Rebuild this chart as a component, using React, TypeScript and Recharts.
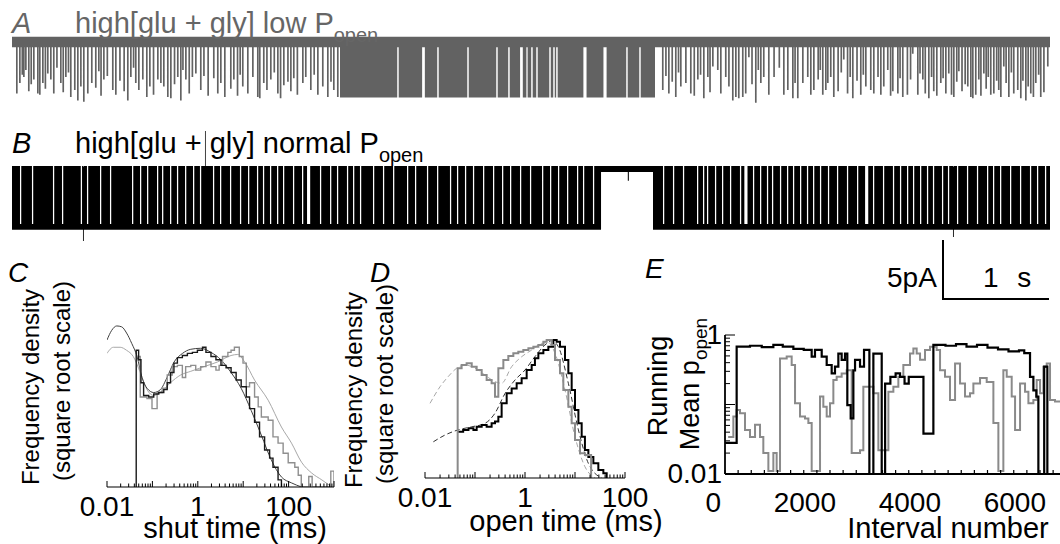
import { ComposedChart, Line, Area, XAxis, YAxis } from "recharts";

const FONT = '"Liberation Sans", Arial, Helvetica, sans-serif';

// ---------- A / B single-channel records (time in s, current in pA) ----------
const TRACE_END = 9.886;

// low Popen record: isolated openings [time, amplitude]
const A_SPIKES: [number, number][] = [
  [0.038, 4.4], [0.067, 3.5], [0.09, 2.8], [0.105, 3.0], [0.124, 2.4], [0.152, 4.2], [0.175, 3.6], [0.2, 3.2],
  [0.238, 4.4], [0.257, 4.5], [0.286, 3.5], [0.31, 4.0], [0.333, 2.7], [0.362, 3.2], [0.39, 4.4], [0.42, 2.2],
  [0.457, 3.5], [0.48, 4.3], [0.505, 3.0], [0.53, 2.6], [0.552, 4.7], [0.59, 4.1], [0.619, 5.0], [0.648, 3.8],
  [0.676, 5.1], [0.714, 4.4], [0.752, 3.5], [0.79, 3.9], [0.819, 2.5], [0.84, 4.6], [0.867, 3.2], [0.9, 2.9],
  [0.952, 4.1], [0.981, 4.5], [1.02, 3.3], [1.06, 4.2], [1.095, 5.0], [1.124, 3.0], [1.15, 2.2], [1.171, 3.5],
  [1.2, 4.1], [1.238, 3.2], [1.276, 4.7], [1.305, 3.8], [1.34, 4.5], [1.381, 3.2], [1.41, 3.5], [1.438, 3.8],
  [1.476, 4.7], [1.505, 4.8], [1.54, 3.6], [1.571, 3.0], [1.6, 5.0], [1.62, 2.4], [1.648, 3.2], [1.68, 4.4],
  [1.71, 3.0], [1.743, 2.7], [1.79, 4.1], [1.82, 2.9], [1.86, 4.6], [1.914, 3.1], [1.952, 4.4], [1.981, 3.5],
  [2.019, 4.7], [2.076, 4.0], [2.105, 3.2], [2.14, 4.6], [2.165, 2.8], [2.19, 3.8], [2.238, 4.4], [2.286, 3.0],
  [2.333, 4.7], [2.352, 4.8], [2.39, 3.5], [2.42, 4.1], [2.457, 3.2], [2.49, 2.6], [2.524, 4.4], [2.55, 4.8],
  [2.581, 3.7], [2.62, 3.4], [2.648, 4.2], [2.676, 3.1], [2.71, 4.5], [2.762, 3.5], [2.79, 3.0], [2.838, 4.1],
  [2.87, 2.8], [2.905, 4.5], [2.952, 3.8], [3.0, 4.7], [3.03, 3.4], [3.057, 4.1], [3.095, 4.7],
  [6.19, 4.1], [6.22, 2.9], [6.248, 4.4], [6.28, 3.4], [6.314, 4.7], [6.34, 2.6], [6.362, 3.8], [6.41, 3.5],
  [6.457, 4.4], [6.49, 4.6], [6.524, 3.2], [6.55, 2.8], [6.581, 4.8], [6.619, 3.0], [6.64, 4.3], [6.667, 2.1],
  [6.714, 2.4], [6.743, 4.4], [6.79, 3.0], [6.82, 3.8], [6.857, 5.0], [6.886, 4.7], [6.914, 4.8], [6.952, 4.7],
  [6.98, 4.4], [7.01, 1.3], [7.04, 3.6], [7.076, 5.2], [7.1, 2.4], [7.124, 3.5], [7.152, 3.0], [7.2, 4.5],
  [7.25, 3.0], [7.3, 2.2], [7.343, 4.5], [7.381, 4.1], [7.429, 4.8], [7.45, 3.5], [7.476, 4.8], [7.524, 3.5],
  [7.571, 3.0], [7.6, 4.5], [7.629, 4.1], [7.67, 3.2], [7.69, 2.4], [7.714, 4.5], [7.743, 4.1], [7.762, 3.5],
  [7.79, 3.0], [7.819, 4.7], [7.86, 4.2], [7.89, 2.6], [7.914, 1.5], [7.95, 4.4], [7.975, 3.0], [8.0, 4.8],
  [8.04, 3.3], [8.076, 4.5], [8.1, 2.8], [8.124, 3.8], [8.171, 4.1], [8.2, 4.4], [8.24, 3.0], [8.267, 4.5],
  [8.295, 3.8], [8.333, 2.4], [8.36, 4.6], [8.381, 4.2], [8.429, 4.4], [8.45, 3.1], [8.476, 4.7], [8.52, 4.5],
  [8.55, 3.2], [8.571, 1.0], [8.619, 4.5], [8.64, 2.7], [8.667, 3.2], [8.69, 4.4], [8.724, 4.8], [8.75, 3.0],
  [8.771, 4.2], [8.8, 4.6], [8.838, 3.5], [8.86, 3.1], [8.886, 4.4], [8.914, 2.7], [8.94, 4.5], [8.962, 4.7],
  [8.99, 3.4], [9.01, 2.5], [9.04, 4.2], [9.07, 3.6], [9.095, 3.8], [9.124, 4.7], [9.143, 4.8], [9.171, 4.5],
  [9.2, 3.2], [9.22, 4.6], [9.248, 2.7], [9.27, 4.0], [9.29, 3.0], [9.314, 4.5], [9.343, 4.4], [9.37, 3.3],
  [9.39, 4.1], [9.41, 4.7], [9.438, 2.1], [9.46, 3.5], [9.486, 4.7], [9.51, 2.6], [9.533, 4.4], [9.571, 4.1],
  [9.6, 4.8], [9.62, 3.3], [9.648, 5.0], [9.67, 3.8], [9.695, 4.4], [9.72, 4.7], [9.743, 3.5], [9.77, 2.8],
  [9.79, 4.7], [9.82, 4.3], [9.857, 2.1],
];
// low Popen record: long stretch of rapid flicker, broken by short closures [centre, width]
const A_DENSE: [number, number] = [3.124, 6.124];
const A_DENSE_GAPS: [number, number][] = [
  [3.676, 0.014], [3.919, 0.026], [4.057, 0.014], [4.343, 0.014], [4.619, 0.014], [4.733, 0.014],
  [4.852, 0.026], [4.905, 0.012], [4.952, 0.014], [5.0, 0.014], [5.124, 0.014], [5.162, 0.014], [5.19, 0.014],
  [5.457, 0.03], [5.648, 0.03], [5.857, 0.014], [5.981, 0.014],
];
const A_OPEN = -4.75;
const A_NOISE = 0.45;

// normal Popen record: longer openings, seen as gaps in the flicker
const B_SLITS: number[] = [
  0.076, 0.19, 0.39, 0.476, 0.655, 0.714, 0.838, 0.933, 1.143, 1.219, 1.286, 1.381, 1.429, 1.505, 1.571, 1.648,
  1.724, 1.79, 1.914, 1.981, 2.076, 2.171, 2.248, 2.333, 2.39, 2.457, 2.524, 2.581, 2.676, 2.762, 2.933, 3.029,
  3.095, 3.19, 3.248, 3.314, 3.438, 3.533, 3.629, 3.762, 3.838, 3.952, 4.048, 4.171, 4.238, 4.314, 4.39, 4.486,
  4.581, 4.667, 4.743, 4.838, 4.933, 5.048, 5.124, 5.2, 5.286, 5.381, 5.438, 5.533,
  6.2, 6.295, 6.39, 6.524, 6.581, 6.619, 6.695, 6.762, 6.838, 6.933, 7.057, 7.124, 7.19, 7.238, 7.314, 7.381,
  7.438, 7.505, 7.571, 7.629, 7.695, 7.771, 7.857, 7.952, 8.048, 8.2, 8.295, 8.39, 8.457, 8.524, 8.581, 8.648,
  8.714, 8.771, 8.857, 8.914, 9.0, 9.095, 9.19, 9.286, 9.343, 9.41, 9.505, 9.6, 9.695, 9.762, 9.838,
];
const B_WIDE_SLITS: [number, number][] = [[2.81, 2.84], [6.975, 7.005], [8.125, 8.155]];
const B_SHUT: [number, number][] = [[5.61, 5.865], [5.875, 6.105]];
const B_GLITCHES: [number, number, number, number][] = [
  [0.676, 0.684, -6.15, 0.2], [1.838, 1.845, -5.2, 3.25], [5.865, 5.875, -1.0, 0.25], [8.962, 8.97, -5.8, 0.2],
];
const B_FLICKER: [number, number] = [-5.2, 0.25];
const B_OPEN_BAND: [number, number] = [-5.2, -4.7];
const B_SHUT_BAND: [number, number] = [-0.25, 0.25];

// ---------- C: shut time distributions (ms, frequency density on sqrt scale) ----------
const C_BLACK_HIST: [number, number][] = [
  [0.044, 0], [0.044, 67], [0.0497, 58], [0.056, 39], [0.064, 30], [0.083, 29], [0.107, 31], [0.138, 32],
  [0.178, 34], [0.212, 39], [0.251, 47], [0.298, 55], [0.355, 60], [0.457, 62], [0.59, 64], [0.76, 65],
  [0.98, 67], [1.27, 70], [1.51, 65], [1.95, 61], [2.51, 58], [3.24, 53], [4.19, 51], [5.41, 47], [6.99, 41],
  [9.03, 36], [11.7, 29], [13.8, 22], [17.8, 15], [22.9, 9], [29.6, 4.9], [38.2, 3.0], [45.3, 1.4],
  [58.6, 0.18], [69.5, 0],
];
const C_GRAY_HIST: [number, number][] = [
  [0.046, 61], [0.054, 29], [0.076, 28], [0.098, 22], [0.127, 32], [0.164, 35], [0.212, 45], [0.273, 52],
  [0.355, 53], [0.457, 43], [0.54, 52], [0.7, 53], [0.9, 49], [1.16, 52], [1.51, 56], [1.95, 52], [2.51, 49],
  [2.95, 53], [3.5, 61], [4.6, 65], [5.4, 67], [6.4, 70], [7.6, 70], [8.2, 61], [9.9, 55], [11.7, 36],
  [13.8, 39], [17.8, 29], [21.4, 23], [25.1, 17.6], [35.5, 16], [45.3, 9], [58.6, 6.9], [75.8, 4.1], [98, 2.1],
  [137, 1.4], [163, 0.5], [190, 0], [278, 0.4], [330, 0], [850, 0.9], [1000, 0.9], [1000, 0],
];
const C_BLACK_FIT: [number, number][] = [
  [0.01, 77.5], [0.0127, 88], [0.0164, 93], [0.021, 92], [0.027, 85], [0.035, 74], [0.046, 61], [0.059, 43],
  [0.076, 35], [0.107, 32], [0.15, 34], [0.21, 43], [0.3, 56], [0.46, 64], [0.7, 68], [1.16, 69], [1.95, 65],
  [3.24, 58], [5.4, 47], [9, 35], [15, 21], [25, 9.7], [41.7, 2.6], [69.5, 0.36], [116, 0.06], [193, 0],
];
const C_GRAY_FIT: [number, number][] = [
  [0.01, 64], [0.0138, 70], [0.0195, 70], [0.027, 67], [0.038, 61], [0.054, 47], [0.076, 34], [0.107, 30],
  [0.15, 32], [0.25, 39], [0.42, 45], [0.7, 48], [1.38, 52], [2.7, 56], [5.4, 62], [7.6, 63], [10.8, 56],
  [17.8, 41], [35.5, 27], [69.5, 12.9], [116, 6.9], [193, 2.2], [322, 0.7], [540, 0.18], [900, 0],
];
const C_LABELS = [0.01, 1, 100];

// ---------- D: open time distributions ----------
const D_GRAY_HIST: [number, number][] = [
  [0.045, 0], [0.045, 43.2], [0.054, 45.8], [0.068, 47.2], [0.086, 44.4], [0.108, 41.8], [0.136, 38],
  [0.171, 34.4], [0.215, 32.2], [0.251, 23.7], [0.293, 43.2], [0.369, 50], [0.464, 53.4], [0.584, 55.8],
  [0.735, 57.2], [0.926, 58.7], [1.17, 60.3], [1.47, 61.8], [1.85, 63.4], [2.33, 66.6], [2.71, 68.3],
  [3.41, 63.4], [3.98, 50], [5.01, 39.3], [5.84, 27.8], [7.36, 18.2], [8.58, 10.7], [10, 5.2], [12.6, 2.2],
  [15.8, 1.9], [21, 0],
];
const D_BLACK_HIST: [number, number][] = [
  [0.046, 7.7], [0.058, 8.3], [0.074, 8.9], [0.093, 8.3], [0.108, 9.4], [0.136, 10.1], [0.171, 9.4],
  [0.215, 10.7], [0.251, 11.4], [0.293, 13.5], [0.341, 20], [0.43, 25.7], [0.541, 28.8], [0.681, 32.2],
  [0.857, 35.6], [1.08, 41.8], [1.36, 45.8], [1.58, 51.4], [1.85, 55.8], [2.33, 58.7], [2.93, 61.8],
  [3.69, 68.3], [4.3, 66.6], [5.01, 61.8], [6.31, 50], [7.36, 39.3], [8.58, 27.8], [10, 16.6], [11.7, 10.7],
  [13.6, 6.1], [15.8, 2.8], [18.5, 1.6], [23.3, 0.77], [29.3, 0.23], [36.9, 0.08], [43, 0],
];
const D_GRAY_FIT: [number, number][] = [
  [0.0126, 20], [0.02, 29.9], [0.029, 36.8], [0.043, 43.2], [0.063, 45.8], [0.1, 43.2], [0.158, 38],
  [0.25, 33.3], [0.34, 32.2], [0.54, 44.4], [0.86, 52.8], [1.36, 58.7], [2.15, 65], [2.93, 65.6],
  [3.98, 55.8], [6.31, 27.8], [10, 6.1], [15.8, 0.46], [25, 0],
];
const D_BLACK_FIT: [number, number][] = [
  [0.0147, 4.7], [0.025, 6.6], [0.046, 8.3], [0.086, 9.4], [0.158, 10.7], [0.25, 15], [0.4, 25.7],
  [0.63, 34.4], [1, 41.8], [1.58, 52.8], [2.51, 63.4], [3.41, 67.6], [4.64, 61.8], [7.36, 32.2], [11.7, 8.3],
  [18.5, 0.77], [34, 0],
];
const D_LABELS = [0.01, 1, 100];

// ---------- E: running mean Popen (interval number, Popen) ----------
const E_BLACK: [number, number][] = [
  [0, 0.028], [222, 0.68], [476, 0.7], [700, 0.67], [921, 0.72], [1100, 0.68], [1302, 0.63], [1500, 0.61],
  [1651, 0.49], [1714, 0.61], [1842, 0.49], [1937, 0.37], [2032, 0.28], [2095, 0.35], [2159, 0.54],
  [2222, 0.44], [2286, 0.54], [2330, 0.098], [2394, 0.063], [2445, 0.31], [2477, 0.44], [2572, 0.35],
  [2648, 0.61], [2750, 0.01], [2826, 0.54], [2985, 0.01], [3050, 0.2], [3150, 0.25], [3250, 0.28],
  [3334, 0.25], [3420, 0.2], [3500, 0.25], [3780, 0.038], [3969, 0.72], [4200, 0.7], [4400, 0.74],
  [4600, 0.68], [4800, 0.72], [5000, 0.66], [5200, 0.62], [5400, 0.58], [5600, 0.6], [5700, 0.55],
  [5810, 0.25], [5874, 0.16], [5930, 0.13], [5969, 0.01], [6080, 0.35], [6140, 0.01], [6400, 0.01],
];
const E_GRAY: [number, number][] = [
  [60, 0.034], [159, 0.067], [222, 0.083], [286, 0.075], [381, 0.043], [476, 0.034], [572, 0.051],
  [667, 0.034], [730, 0.02], [826, 0.011], [921, 0.02], [984, 0.011], [1048, 0.46], [1175, 0.49],
  [1270, 0.37], [1334, 0.104], [1429, 0.067], [1524, 0.063], [1588, 0.054], [1651, 0.011], [1810, 0.13],
  [1873, 0.093], [1937, 0.067], [2000, 0.104], [2064, 0.225], [2127, 0.25], [2222, 0.28], [2318, 0.31],
  [2413, 0.02], [2572, 0.022], [2635, 0.18], [2826, 0.145], [2921, 0.022], [3112, 0.153], [3207, 0.18],
  [3302, 0.25], [3397, 0.37], [3524, 0.54], [3588, 0.64], [3651, 0.54], [3715, 0.44], [3810, 0.61],
  [3905, 0.68], [4032, 0.61], [4096, 0.31], [4191, 0.25], [4286, 0.116], [4382, 0.39], [4477, 0.2],
  [4572, 0.13], [4667, 0.145], [4731, 0.2], [4858, 0.24], [4985, 0.21], [5112, 0.054], [5207, 0.011],
  [5302, 0.31], [5366, 0.25], [5461, 0.13], [5525, 0.043], [5620, 0.2], [5715, 0.153], [5779, 0.104],
  [5874, 0.116], [5937, 0.225], [6001, 0.145], [6064, 0.35], [6128, 0.39], [6191, 0.116], [6286, 0.11],
  [6400, 0.11],
];
const E_X_LABELS = [0, 2000, 4000, 6000];
const E_Y_LABELS = [0.01, 1];

// scale bar: 5 pA, 1 s
const SCALE_TIME = 1;
const SCALE_CURRENT = 5;

type Seg = [number, number, number, number]; // start, end, low, high
type Row = { t: number; band: [number, number] };

function traceRows(segs: Seg[], base: [number, number]): Row[] {
  const s = [...segs].sort((a, b) => a[0] - b[0]);
  const rows: Row[] = [{ t: 0, band: base }];
  s.forEach((g, i) => {
    rows.push({ t: g[0], band: [g[2], g[3]] });
    const next = s[i + 1];
    if (!next || next[0] > g[1]) rows.push({ t: g[1], band: base });
  });
  rows.push({ t: TRACE_END, band: base });
  return rows;
}

// split a dense stretch into flicker segments around its short closures
function denseSegs(range: [number, number], gaps: [number, number][], low: number, high: number): Seg[] {
  const out: Seg[] = [];
  let start = range[0];
  gaps.forEach(([c, w]) => {
    out.push([start, c - w / 2, low, high]);
    start = c + w / 2;
  });
  out.push([start, range[1], low, high]);
  return out;
}

function logTicks(lo: number, hi: number): number[] {
  const out: number[] = [];
  for (let d = lo; d <= hi * 1.0001; d *= 10) {
    for (let k = 1; k <= 9; k++) {
      const v = +(d * k).toPrecision(6);
      if (v <= hi * 1.0001) out.push(v);
    }
  }
  return out;
}

const isDecade = (v: number) => {
  const m = v / Math.pow(10, Math.floor(Math.log10(v) + 1e-9));
  return Math.abs(m - 1) < 1e-6;
};

const tf = (pairs: [number, number][]) => pairs.map(([t, f]) => ({ t, f }));
const np = (pairs: [number, number][]) => pairs.map(([n, p]) => ({ n, p }));

function logTick(labels: number[], labelDy: number) {
  return (p: any) => {
    const v = Number(p.payload.value);
    const major = isDecade(v);
    const lab = labels.find((l) => Math.abs(l - v) <= l * 1e-6);
    return (
      <g>
        <line x1={p.x} x2={p.x} y1={p.y} y2={p.y - (major ? 6 : 3.5)} stroke="#000" strokeWidth={1} />
        {lab !== undefined && (
          <text x={p.x} y={p.y + labelDy} textAnchor="middle" fontSize={28} fontFamily={FONT} fill="#000">
            {String(lab)}
          </text>
        )}
      </g>
    );
  };
}

const eXTick = (p: any) => {
  const v = Number(p.payload.value);
  const lab = E_X_LABELS.includes(v);
  return (
    <g>
      <line x1={p.x} x2={p.x} y1={p.y} y2={p.y - 4} stroke="#000" strokeWidth={1.2} />
      {lab && (
        <text x={v === 0 ? p.x - 4 : p.x + 6} y={p.y + 38} textAnchor="end" fontSize={28} fontFamily={FONT} fill="#000">
          {v}
        </text>
      )}
    </g>
  );
};

const eYTick = (p: any) => {
  const v = Number(p.payload.value);
  const major = isDecade(v);
  const lab = E_Y_LABELS.find((l) => Math.abs(l - v) <= l * 1e-6);
  return (
    <g>
      <line x1={p.x} x2={p.x + (major ? 10 : 5)} y1={p.y} y2={p.y} stroke="#000" strokeWidth={1} />
      {lab !== undefined && (
        <text x={p.x - 3} y={p.y + 9} textAnchor="end" fontSize={28} fontFamily={FONT} fill="#000">
          {String(lab)}
        </text>
      )}
    </g>
  );
};

function Trace({ rows, top, height, domain, color }: { rows: Row[]; top: number; height: number; domain: [number, number]; color: string }) {
  return (
    <div style={{ position: "absolute", left: 12, top }}>
      <ComposedChart width={1038} height={height} data={rows} margin={{ top: 0, right: 0, bottom: 0, left: 0 }}>
        <XAxis type="number" dataKey="t" domain={[0, TRACE_END]} allowDataOverflow hide />
        <YAxis type="number" domain={domain} allowDataOverflow hide />
        <Area type="stepAfter" dataKey="band" stroke="none" fill={color} fillOpacity={1} dot={false} activeDot={false} isAnimationActive={false} />
      </ComposedChart>
    </div>
  );
}

export default function App() {
  const aRows = traceRows(
    [
      ...A_SPIKES.map(([t, a]): Seg => [t, t + 0.016, -a, A_NOISE]),
      ...denseSegs(A_DENSE, A_DENSE_GAPS, A_OPEN, A_NOISE),
    ],
    [-A_NOISE, A_NOISE]
  );
  const bRows = traceRows(
    [
      ...B_SLITS.map((t): Seg => [t, t + 0.012, B_OPEN_BAND[0], B_OPEN_BAND[1]]),
      ...B_WIDE_SLITS.map(([s, e]): Seg => [s, e, B_OPEN_BAND[0], B_OPEN_BAND[1]]),
      ...B_SHUT.map(([s, e]): Seg => [s, e, B_SHUT_BAND[0], B_SHUT_BAND[1]]),
      ...B_GLITCHES,
    ],
    B_FLICKER
  );

  const cTicks = logTicks(0.01, 1000);
  const dTicks = logTicks(0.01, 100);
  const eXTicks = Array.from({ length: 26 }, (_, i) => i * 250);
  const eYTicks = logTicks(0.01, 1);
  const scaleBar = [
    { t: 0, i: SCALE_CURRENT },
    { t: 0, i: 0 },
    { t: SCALE_TIME, i: 0 },
  ];

  return (
    <div style={{ position: "absolute", left: 0, top: 0, width: 1060, height: 544, overflow: "hidden", background: "#fff", fontFamily: FONT }}>
      <Trace rows={aRows} top={0} height={110} domain={[-5.81, 3.59]} color="#626262" />
      <Trace rows={bRows} top={120} height={130} domain={[-6.92, 4.18]} color="#000" />

      {/* C */}
      <div style={{ position: "absolute", left: 67, top: 320 }}>
        <ComposedChart width={307} height={212} margin={{ top: 0, right: 40, bottom: 0, left: 40 }}>
          <XAxis type="number" dataKey="t" scale="log" domain={[0.01, 1000]} allowDataOverflow ticks={cTicks} interval={0}
            tickSize={0} tickMargin={0} tickLine={false} axisLine={{ stroke: "#000", strokeWidth: 1.2 }} tick={logTick(C_LABELS, 29)} height={45} />
          <YAxis type="number" scale="sqrt" domain={[0, 100]} allowDataOverflow hide />
          <Line data={tf(C_GRAY_FIT)} dataKey="f" type="monotone" stroke="#a8a8a8" strokeWidth={1} dot={false} isAnimationActive={false} />
          <Line data={tf(C_BLACK_FIT)} dataKey="f" type="monotone" stroke="#404040" strokeWidth={1} dot={false} isAnimationActive={false} />
          <Line data={tf(C_GRAY_HIST)} dataKey="f" type="stepAfter" stroke="#8f8f8f" strokeWidth={1.4} dot={false} isAnimationActive={false} />
          <Line data={tf(C_BLACK_HIST)} dataKey="f" type="stepAfter" stroke="#1a1a1a" strokeWidth={1.4} dot={false} isAnimationActive={false} />
        </ComposedChart>
      </div>

      {/* D */}
      <div style={{ position: "absolute", left: 385, top: 311 }}>
        <ComposedChart width={280} height={212} margin={{ top: 0, right: 40, bottom: 0, left: 40 }}>
          <XAxis type="number" dataKey="t" scale="log" domain={[0.01, 100]} allowDataOverflow ticks={dTicks} interval={0}
            tickSize={0} tickMargin={0} tickLine={false} axisLine={{ stroke: "#000", strokeWidth: 1.2 }} tick={logTick(D_LABELS, 29)} height={45} />
          <YAxis type="number" scale="sqrt" domain={[0, 100]} allowDataOverflow hide />
          <Line data={tf(D_GRAY_FIT)} dataKey="f" type="monotone" stroke="#a8a8a8" strokeWidth={1} strokeDasharray="5 3" dot={false} isAnimationActive={false} />
          <Line data={tf(D_BLACK_FIT)} dataKey="f" type="monotone" stroke="#303030" strokeWidth={1} strokeDasharray="5 3" dot={false} isAnimationActive={false} />
          <Line data={tf(D_BLACK_HIST)} dataKey="f" type="stepAfter" stroke="#000" strokeWidth={2} dot={false} isAnimationActive={false} />
          <Line data={tf(D_GRAY_HIST)} dataKey="f" type="stepAfter" stroke="#8a8a8a" strokeWidth={2} dot={false} isAnimationActive={false} />
        </ComposedChart>
      </div>

      {/* E */}
      <div style={{ position: "absolute", left: 665, top: 315 }}>
        <ComposedChart width={396} height={209} margin={{ top: 20, right: 0, bottom: 0, left: 0 }}>
          <XAxis type="number" dataKey="n" domain={[0, 6400]} allowDataOverflow ticks={eXTicks} interval={0}
            tickSize={0} tickMargin={0} tickLine={false} axisLine={{ stroke: "#000", strokeWidth: 1.8 }} tick={eXTick} height={50} />
          <YAxis type="number" scale="log" domain={[0.01, 1]} allowDataOverflow ticks={eYTicks} interval={0}
            tickSize={0} tickMargin={0} tickLine={false} axisLine={{ stroke: "#000", strokeWidth: 1.8 }} tick={eYTick} width={60} />
          <Line data={np(E_GRAY)} dataKey="p" type="stepAfter" stroke="#8a8a8a" strokeWidth={2} dot={false} isAnimationActive={false} />
          <Line data={np(E_BLACK)} dataKey="p" type="stepAfter" stroke="#000" strokeWidth={2.2} dot={false} isAnimationActive={false} />
        </ComposedChart>
      </div>

      {/* scale bar */}
      <div style={{ position: "absolute", left: 938, top: 235 }}>
        <ComposedChart width={116} height={69} data={scaleBar} margin={{ top: 5, right: 5, bottom: 5, left: 5 }}>
          <XAxis type="number" dataKey="t" domain={[0, SCALE_TIME]} hide />
          <YAxis type="number" domain={[0, SCALE_CURRENT]} hide />
          <Line dataKey="i" type="linear" stroke="#000" strokeWidth={2} dot={false} isAnimationActive={false} />
        </ComposedChart>
      </div>

      <svg width={1060} height={544} style={{ position: "absolute", left: 0, top: 0, pointerEvents: "none" }}>
        <g fontFamily={FONT} fontSize={29}>
          <text x={12} y={33} fontStyle="italic" fill="#666">A</text>
          <text x={75} y={33} fill="#666">
            high[glu + gly] low P<tspan dy={9} fontSize={20}>open</tspan>
          </text>
          <text x={12} y={153} fontStyle="italic" fill="#000">B</text>
          <text x={75} y={153} fill="#000">
            high[glu + gly] normal P<tspan dy={9} fontSize={20}>open</tspan>
          </text>

          <text x={8} y={282} fontStyle="italic" fontSize={28}>C</text>
          <text x={370} y={282} fontStyle="italic" fontSize={28}>D</text>
          <text x={645} y={278} fontStyle="italic" fontSize={28}>E</text>

          <g fontSize={24}>
            <text transform="translate(39,387) rotate(-90)" textAnchor="middle">Frequency density</text>
            <text transform="translate(70,381) rotate(-90)" textAnchor="middle">(square root scale)</text>
            <text transform="translate(362,390) rotate(-90)" textAnchor="middle">Frequency density</text>
            <text transform="translate(393,384) rotate(-90)" textAnchor="middle">(square root scale)</text>
          </g>
          <g fontSize={27}>
            <text transform="translate(667,386) rotate(-90)" textAnchor="middle">Running</text>
            <text transform="translate(699,384) rotate(-90)" textAnchor="middle">
              Mean p<tspan dy={8} fontSize={19}>open</tspan>
            </text>
          </g>

          <text x={235} y={538} textAnchor="middle">shut time (ms)</text>
          <text x={566} y={531} textAnchor="middle">open time (ms)</text>
          <text x={948} y={538} textAnchor="middle">Interval number</text>

          <text x={887} y={287} fontSize={28}>5pA</text>
          <text x={983} y={287} fontSize={28} style={{ wordSpacing: 11 }}>1 s</text>
        </g>
      </svg>
    </div>
  );
}
